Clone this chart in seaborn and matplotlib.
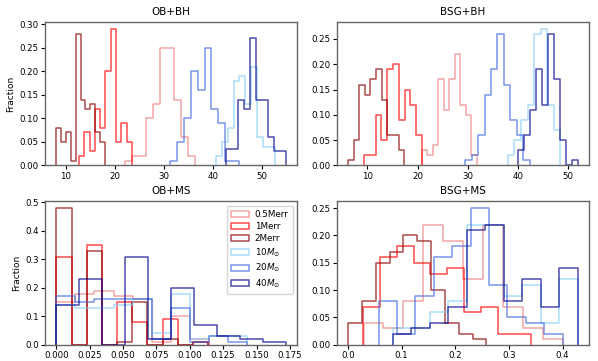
import numpy as np
import matplotlib
matplotlib.use("Agg")
import matplotlib.pyplot as plt
from matplotlib.patches import Patch
import seaborn as sns

labels = ["0.5Merr", "1Merr", "2Merr", r"10$M_{\odot}$", r"20$M_{\odot}$", r"40$M_{\odot}$"]
colors = ["lightcoral", "red", "darkred", "lightskyblue", "royalblue", "darkblue"]
titles = ["OB+BH", "BSG+BH", "OB+MS", "BSG+MS"]

# bin ranges (low, high) per series
ob_bh_lo = [22.04, 12.71, 8.10, 40.68, 31.36, 42.72]
ob_bh_hi = [36.34, 23.53, 18.02, 52.72, 45.37, 54.97]
ob_bh_frac = [
    [0.01, 0.02, 0.02, 0.10, 0.13, 0.25, 0.25, 0.14, 0.06, 0.02],
    [0.02, 0.07, 0.03, 0.12, 0.08, 0.20, 0.29, 0.05, 0.09, 0.05],
    [0.08, 0.05, 0.07, 0.01, 0.28, 0.14, 0.12, 0.13, 0.07, 0.05],
    [0.02, 0.05, 0.08, 0.18, 0.19, 0.13, 0.21, 0.06, 0.04, 0.04],
    [0.01, 0.05, 0.10, 0.20, 0.16, 0.25, 0.12, 0.09, 0.01, 0.01],
    [0.035, 0.035, 0.14, 0.12, 0.27, 0.14, 0.14, 0.06, 0.03, 0.03],
]

bsg_bh_lo = [20.88, 9.33, 6.13, 38.04, 29.50, 40.03]
bsg_bh_hi = [31.84, 20.87, 17.33, 48.50, 42.40, 51.93]
bsg_bh_frac = [
    [0.03, 0.02, 0.04, 0.17, 0.11, 0.17, 0.22, 0.12, 0.10, 0.02],
    [0.02, 0.02, 0.10, 0.05, 0.19, 0.20, 0.09, 0.15, 0.12, 0.06],
    [0.01, 0.05, 0.16, 0.14, 0.17, 0.19, 0.13, 0.06, 0.06, 0.03],
    [0.02, 0.05, 0.09, 0.12, 0.26, 0.27, 0.12, 0.07],
    [0.01, 0.02, 0.06, 0.14, 0.19, 0.26, 0.16, 0.09, 0.06, 0.01],
    [0.03, 0.06, 0.11, 0.19, 0.12, 0.26, 0.17, 0.05, 0.00, 0.01],
]

ob_ms_lo = [0.0, 0.0, 0.0, 0.0, 0.0, 0.0]
ob_ms_hi = [0.1144, 0.1138, 0.1138, 0.143, 0.143, 0.172]
ob_ms_frac = [
    [0.15, 0.18, 0.19, 0.17, 0.16, 0.01, 0.10, 0.02],
    [0.31, 0.00, 0.35, 0.00, 0.15, 0.08, 0.00, 0.09, 0.00, 0.01],
    [0.48, 0.00, 0.33, 0.00, 0.01, 0.15, 0.00, 0.02, 0.00, 0.01],
    [0.14, 0.13, 0.13, 0.14, 0.16, 0.04, 0.18, 0.02, 0.03, 0.03],
    [0.17, 0.15, 0.16, 0.16, 0.16, 0.02, 0.13, 0.01, 0.03, 0.01],
    [0.14, 0.23, 0.00, 0.31, 0.02, 0.20, 0.07, 0.03, 0.02, 0.01],
]

bsg_ms_lo = [0.029, 0.028, 0.0, 0.084, 0.057, 0.084]
bsg_ms_hi = [0.400, 0.342, 0.258, 0.428, 0.400, 0.428]
bsg_ms_frac = [
    [0.04, 0.03, 0.08, 0.22, 0.19, 0.12, 0.22, 0.07, 0.03, 0.01],
    [0.07, 0.16, 0.18, 0.15, 0.13, 0.14, 0.06, 0.07, 0.02, 0.02],
    [0.04, 0.08, 0.15, 0.17, 0.20, 0.19, 0.10, 0.04, 0.02, 0.01],
    [0.03, 0.03, 0.06, 0.08, 0.22, 0.22, 0.09, 0.11, 0.04, 0.12],
    [0.08, 0.02, 0.09, 0.16, 0.18, 0.25, 0.11, 0.05, 0.04, 0.02],
    [0.02, 0.03, 0.04, 0.07, 0.21, 0.22, 0.08, 0.12, 0.07, 0.14],
]

panels = [
    (ob_bh_lo, ob_bh_hi, ob_bh_frac),
    (bsg_bh_lo, bsg_bh_hi, bsg_bh_frac),
    (ob_ms_lo, ob_ms_hi, ob_ms_frac),
    (bsg_ms_lo, bsg_ms_hi, bsg_ms_frac),
]

plt.rcParams["font.size"] = 6.5
plt.rcParams["xtick.labelsize"] = 6.2
plt.rcParams["ytick.labelsize"] = 6.2

fig, axes = plt.subplots(2, 2, figsize=(5.98, 3.61), dpi=100)
fig.subplots_adjust(left=0.075, right=0.985, top=0.939, bottom=0.045,
                    wspace=0.155, hspace=0.25)

lw = 1.1
for ax, (lo, hi, fracs), title in zip(axes.flat, panels, titles):
    for l, h, f, c in zip(lo, hi, fracs, colors):
        edges = np.linspace(l, h, len(f) + 1)
        centers = (edges[:-1] + edges[1:]) / 2
        # zero-width end bins so the outline drops to zero like a step histogram
        bins = [l] + edges.tolist() + [h]
        sns.histplot(x=centers, weights=f, bins=bins, element="step", fill=False,
                     color=c, alpha=0.7, linewidth=lw, ax=ax)
    ax.set_title(title, fontsize=7.5, pad=5)
    ax.set_xlabel("")
    ax.set_ylabel("")
    for s in ax.spines.values():
        s.set_color("#666666")
        s.set_linewidth(1.0)
    ax.tick_params(length=3, width=0.8, pad=1.5)

axes[0, 0].set_ylabel("Fraction", fontsize=6.5, labelpad=3)
axes[1, 0].set_ylabel("Fraction", fontsize=6.5, labelpad=3)

handles = [Patch(facecolor="none", edgecolor=c, alpha=0.7, linewidth=lw) for c in colors]
axes[1, 0].legend(handles, labels, loc="upper right", fontsize=6.3,
                  handlelength=2.0, handletextpad=0.7, borderpad=0.5,
                  labelspacing=0.35)

fig.savefig("out.png", dpi=100)
